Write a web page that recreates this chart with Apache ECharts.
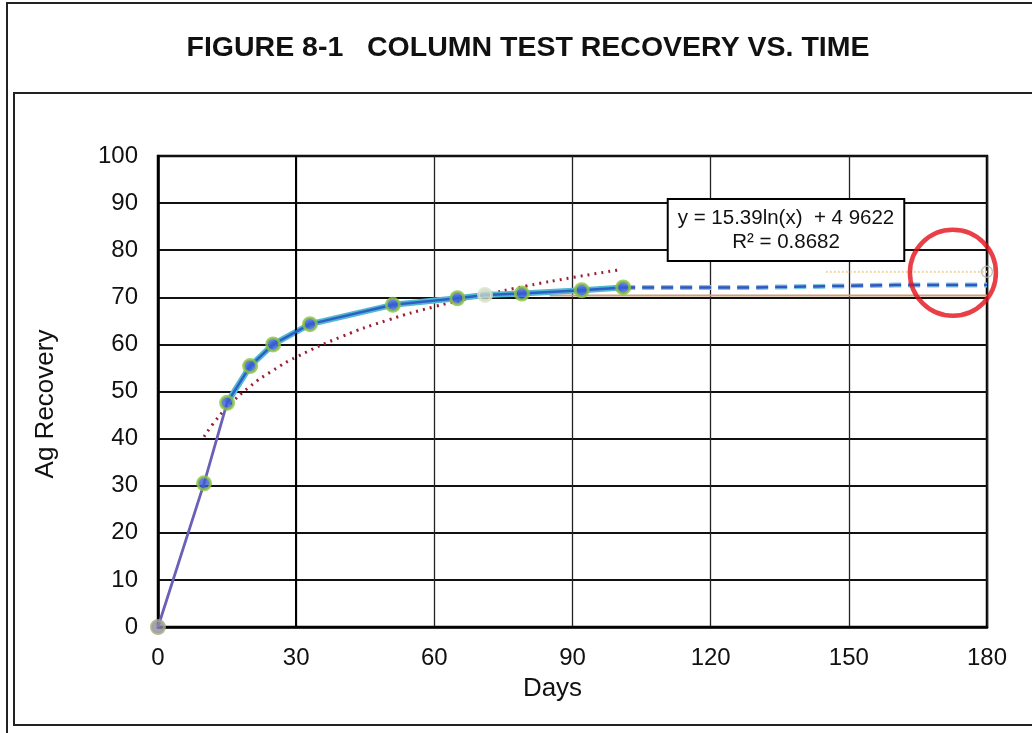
<!DOCTYPE html>
<html>
<head>
<meta charset="utf-8">
<title>Column Test Recovery vs. Time</title>
<script src="https://cdn.jsdelivr.net/npm/echarts@6/dist/echarts.min.js"></script>
<style>
  html, body { margin: 0; padding: 0; background: #fff; }
  #chart { width: 1032px; height: 733px; }
</style>
</head>
<body>
<div id="chart"></div>
<script>
// ---- data ----
const days = [0, 10, 15, 20, 25, 33, 51, 65, 71, 79, 92, 101];
const recovery = [0, 30.5, 47.6, 55.4, 60.0, 64.3, 68.4, 69.8, 70.5, 70.8, 71.5, 72.1];

// projected (dashed) continuation
const projDays = [101, 130, 160, 180];
const projRecovery = [72.1, 72.1, 72.6, 72.6];

// log trendline (dotted)
const trendDays = [10, 12, 15, 20, 25, 30, 40, 50, 60, 70, 80, 90, 100];
const trendRecovery = [40.4, 43.2, 46.6, 51.1, 54.5, 57.3, 61.7, 65.2, 68.0, 70.3, 72.4, 74.2, 75.8];

// faint extra lines / point near the right edge
const tanDays = [85, 180];
const tanRecovery = [70.4, 70.4];
const paleDays = [145, 180];
const paleRecovery = [75.4, 75.4];
const endDays = [180];
const endRecovery = [75.4];

// red highlight circle
const circleDays = [172.6];
const circleRecovery = [75.2];

const xTicks = [0, 30, 60, 90, 120, 150, 180];
const yTicks = [0, 10, 20, 30, 40, 50, 60, 70, 80, 90, 100];

const equationText = 'y = 15.39ln(x)  + 4 9622\nR² = 0.8682';

// ---- helpers ----
const pairs = (xs, ys) => xs.map((x, i) => [x, ys[i]]);
const FONT = 'Liberation Sans, Arial, sans-serif';

const allPts = pairs(days, recovery);
const earlyPts = allPts.slice(0, 3);
const mainPts = allPts.slice(2);

// marker styling by index (first point greyish, faint point at index 8)
const markerPts = allPts.map((p, i) => {
    if (i === 0) return { value: p, itemStyle: { color: '#8d8aa8', borderColor: '#a6a68a' } };
    if (i === 8) return { value: p, itemStyle: { color: '#c9d6c6', borderColor: '#d8e2c8' } };
    return { value: p };
});

const chart = echarts.init(document.getElementById('chart'));

const option = {
    backgroundColor: '#fff',
    animation: false,

    // TITLE
    title: {
        text: 'FIGURE 8-1   COLUMN TEST RECOVERY VS. TIME',
        left: 523,
        top: 29,
        textAlign: 'center',
        textStyle: { fontFamily: FONT, fontSize: 28.5, fontWeight: 'bold', color: '#111' }
    },

    grid: {
        left: 158, top: 156, width: 829, height: 471,
        show: true, borderColor: '#000', borderWidth: 2.5, backgroundColor: 'transparent'
    },

    // XAXIS
    xAxis: {
        type: 'value',
        min: 0, max: 180, interval: 30,
        name: 'Days',
        nameLocation: 'middle',
        nameGap: 49,
        nameTextStyle: { fontFamily: FONT, fontSize: 26, color: '#111', padding: [0, 40, 0, 0] },
        axisLine: { show: true, lineStyle: { color: '#000', width: 2.5 } },
        axisTick: { show: false },
        axisLabel: {
            fontFamily: FONT, fontSize: 24, color: '#111', margin: 19,
            formatter: v => xTicks.includes(v) ? String(v) : ''
        },
        splitLine: { show: true, lineStyle: { color: '#222', width: 1.3 } }
    },

    // YAXIS
    yAxis: {
        type: 'value',
        min: 0, max: 100, interval: 10,
        name: 'Ag Recovery',
        nameLocation: 'middle',
        nameGap: 99,
        nameTextStyle: { fontFamily: FONT, fontSize: 26, color: '#111', padding: [0, 25, 0, 0] },
        axisLine: { show: true, lineStyle: { color: '#000', width: 2.5 } },
        axisTick: { show: false },
        axisLabel: {
            fontFamily: FONT, fontSize: 24, color: '#111', margin: 20,
            formatter: v => yTicks.includes(v) ? String(v) : ''
        },
        splitLine: { show: true, lineStyle: { color: '#111', width: 1.8 } }
    },

    // SERIES
    series: [
        {
            name: 'tan', type: 'line', data: pairs(tanDays, tanRecovery),
            symbol: 'none', lineStyle: { color: '#c9a27a', width: 2 }, z: 2,
            // the 30-day gridline is drawn heavier in the original
            markLine: {
                silent: true, symbol: 'none', label: { show: false },
                lineStyle: { color: '#000', width: 2, type: 'solid' },
                data: [{ xAxis: xTicks[1] }]
            }
        },
        {
            name: 'pale', type: 'line', data: pairs(paleDays, paleRecovery),
            symbol: 'none', lineStyle: { color: '#f2d7a0', width: 2, type: 'dotted' }, z: 2
        },
        {
            name: 'trend', type: 'line', data: pairs(trendDays, trendRecovery),
            smooth: true, symbol: 'none',
            lineStyle: { color: '#9c1f35', width: 3, type: [2, 5] }, z: 3
        },
        {
            name: 'halo', type: 'line', data: mainPts,
            symbol: 'none', lineStyle: { color: '#52b9cf', width: 6 }, z: 4
        },
        {
            name: 'projHalo', type: 'line', data: pairs(projDays, projRecovery),
            symbol: 'none', lineStyle: { color: '#7cc6da', width: 5, type: [12, 7] }, z: 4
        },
        {
            name: 'early', type: 'line', data: earlyPts,
            symbol: 'none', lineStyle: { color: '#6a60b8', width: 2.8 }, z: 5
        },
        {
            name: 'recovery', type: 'line', data: mainPts,
            symbol: 'none', lineStyle: { color: '#2e5ec8', width: 2.5 }, z: 5
        },
        {
            name: 'projected', type: 'line', data: pairs(projDays, projRecovery),
            symbol: 'none', lineStyle: { color: '#3355c4', width: 2.5, type: [12, 7] }, z: 5
        },
        {
            name: 'markers', type: 'scatter', data: markerPts,
            symbol: 'circle', symbolSize: 13,
            itemStyle: { color: '#3a5bd8', borderColor: '#8cc43c', borderWidth: 3 }, z: 6
        },
        {
            name: 'endPoint', type: 'scatter', data: pairs(endDays, endRecovery),
            symbol: 'circle', symbolSize: 11, clip: false,
            itemStyle: { color: 'rgba(0,0,0,0)', borderColor: '#b3bba8', borderWidth: 1.5 }, z: 6
        },
        {
            name: 'highlight', type: 'scatter', data: pairs(circleDays, circleRecovery),
            symbol: 'circle', symbolSize: 86, clip: false, silent: true,
            itemStyle: { color: 'rgba(0,0,0,0)', borderColor: '#e3101a', borderWidth: 4.5 }, z: 10
        }
    ],

    // FRAMES + EQUATION BOX
    graphic: [
        {
            type: 'rect', z: 0, silent: true,
            shape: { x: 7, y: 3, width: 1100, height: 800 },
            style: { fill: 'none', stroke: '#222', lineWidth: 2 }
        },
        {
            type: 'rect', z: 0, silent: true,
            shape: { x: 14, y: 93, width: 1100, height: 632 },
            style: { fill: 'none', stroke: '#222', lineWidth: 2 }
        },
        {
            type: 'text', z: 20, silent: true,
            x: 786, y: 200,
            style: {
                text: equationText,
                font: '20.5px ' + FONT,
                fill: '#111',
                align: 'center',
                verticalAlign: 'top',
                lineHeight: 24,
                backgroundColor: '#fff',
                borderColor: '#000',
                borderWidth: 2,
                padding: [6, 9, 6, 9]
            }
        }
    ]
};

chart.setOption(option);
</script>
</body>
</html>
